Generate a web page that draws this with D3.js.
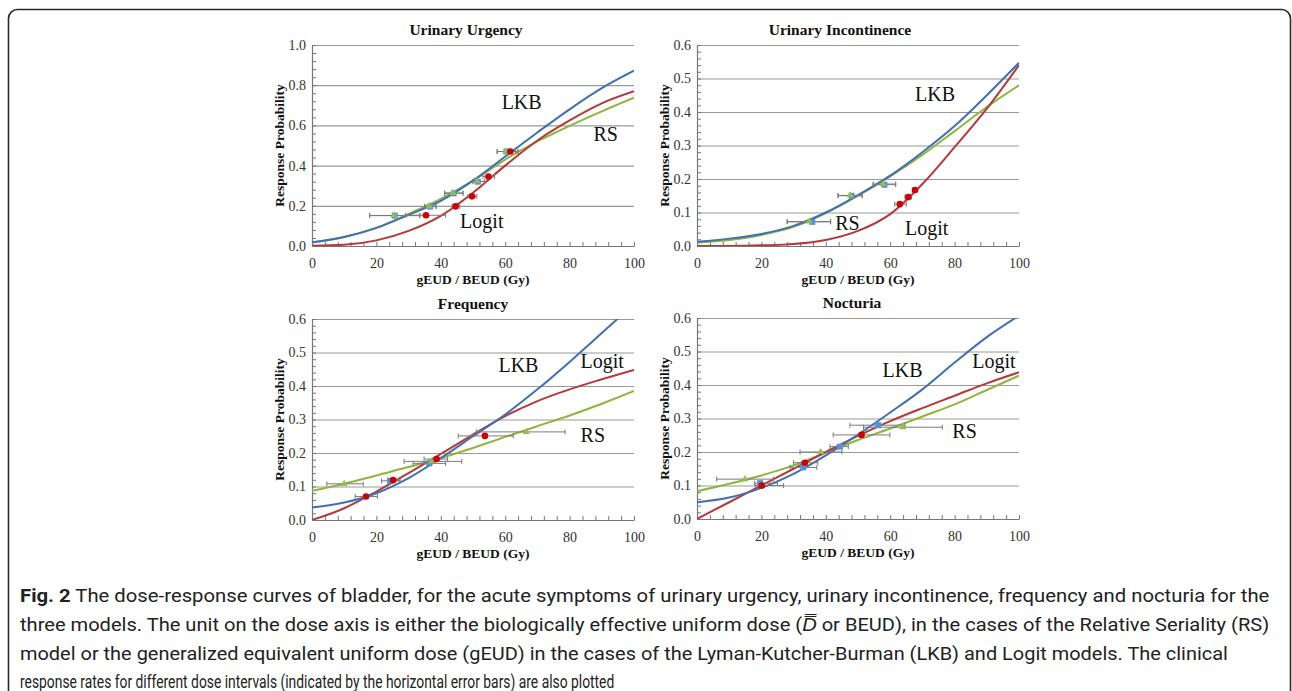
<!DOCTYPE html>
<html>
<head>
<meta charset="utf-8">
<style>
  body { margin: 0; background: #fff; }
  svg { display: block; }
  .axis text { font-family: "Liberation Serif", "Times New Roman", serif; font-size: 14px; fill: #333; }
  .axis .domain { stroke: #777; stroke-width: 1.2; }
  .axis line { stroke: #777; }
  .grid line { stroke: #999; stroke-width: 1.2; }
  .grid .domain { display: none; }
  .title { font-family: "Liberation Serif", serif; font-weight: bold; font-size: 15.5px; fill: #111; }
  .axis-title { font-family: "Liberation Serif", serif; font-weight: bold; font-size: 13.5px; fill: #111; }
  .curve-label { font-family: "Liberation Serif", serif; font-size: 20px; fill: #111; }
  .caption { font-family: "Roboto", "Open Sans", sans-serif; font-size: 18px; fill: #222; }
</style>
</head>
<body>
<svg width="1292" height="691"></svg>
<script src="https://d3js.org/d3.v7.min.js"></script>
<script>
const doses = [0, 10, 20, 30, 40, 50, 60, 70, 80, 90, 100];

// Urinary urgency
const urgencyLKB   = [0.018, 0.045, 0.09, 0.155, 0.225, 0.325, 0.445, 0.565, 0.68, 0.785, 0.872];
const urgencyLogit = [0.001, 0.006, 0.028, 0.075, 0.15, 0.265, 0.40, 0.525, 0.625, 0.71, 0.77];
const urgencyRS    = [0.017, 0.045, 0.09, 0.16, 0.235, 0.325, 0.43, 0.52, 0.598, 0.67, 0.738];
// [dose, rate, dose low, dose high]
const urgencyLKBPts   = [[25.7, 0.151, 17.9, 33.5], [36.7, 0.196, 35.0, 38.5], [44.0, 0.262, 41.2, 46.9], [51.5, 0.32, 50.0, 53.6], [60.4, 0.47, 57.5, 64.0]];
const urgencyRSPts    = [[25.5, 0.152, 17.9, 33.5], [36.4, 0.198, 35.0, 38.5], [43.8, 0.264, 41.2, 46.9], [51.3, 0.322, 50.0, 53.6], [60.2, 0.47, 57.5, 64.0]];
const urgencyLogitPts = [[35.4, 0.153, 29.0, 41.5], [44.6, 0.197, 43.5, 45.9], [49.7, 0.247, 48.4, 51.2], [54.8, 0.346, 53.1, 56.7], [61.6, 0.47, 60.0, 63.2]];

// Urinary incontinence
const incontLKB   = [0.013, 0.022, 0.036, 0.06, 0.10, 0.152, 0.21, 0.28, 0.358, 0.45, 0.547];
const incontLogit = [0.0, 0.0003, 0.002, 0.006, 0.018, 0.045, 0.095, 0.185, 0.295, 0.41, 0.54];
const incontRS    = [0.01, 0.018, 0.033, 0.057, 0.098, 0.15, 0.208, 0.272, 0.343, 0.415, 0.48];
const incontLKBPts   = [[35.8, 0.072, 28.0, 41.5], [48.0, 0.15, 43.8, 51.3], [58.2, 0.183, 54.7, 61.7]];
const incontRSPts    = [[34.8, 0.073, 28.0, 41.5], [47.6, 0.151, 43.8, 51.3], [57.8, 0.185, 54.7, 61.7]];
const incontLogitPts = [[63.0, 0.125, 61.4, 65.0], [65.6, 0.146, 64.6, 66.6], [67.7, 0.167, 67.0, 68.4]];

// Frequency
const freqLKB   = [0.037, 0.052, 0.08, 0.125, 0.185, 0.25, 0.315, 0.39, 0.472, 0.558, 0.645];
const freqLogit = [0.0, 0.035, 0.085, 0.14, 0.197, 0.255, 0.31, 0.355, 0.39, 0.42, 0.448];
const freqRS    = [0.087, 0.108, 0.133, 0.158, 0.185, 0.215, 0.248, 0.28, 0.312, 0.347, 0.385];
const freqLKBPts   = [[24.2, 0.117, 21.6, 27.4], [36.4, 0.169, 31.4, 41.5]];
const freqRSPts    = [[10.0, 0.108, 4.6, 15.9], [37.1, 0.175, 28.6, 46.5], [66.5, 0.263, 51.0, 78.6]];
const freqLogitPts = [[16.8, 0.07, 13.4, 20.3], [25.2, 0.119, 23.5, 27.0], [38.7, 0.182, 34.8, 42.1], [53.7, 0.251, 45.4, 62.5]];

// Nocturia
const noctLKB   = [0.05, 0.064, 0.093, 0.135, 0.19, 0.252, 0.318, 0.387, 0.467, 0.543, 0.607];
const noctLogit = [0.0, 0.05, 0.10, 0.15, 0.20, 0.248, 0.292, 0.331, 0.368, 0.405, 0.438];
const noctRS    = [0.083, 0.105, 0.13, 0.16, 0.198, 0.236, 0.27, 0.306, 0.342, 0.385, 0.428];
const noctLKBPts   = [[19.6, 0.107, 17.9, 25.0], [33.0, 0.154, 28.9, 37.2], [44.4, 0.216, 41.3, 47.0], [56.3, 0.28, 47.5, 64.6]];
const noctRSPts    = [[14.9, 0.119, 6.1, 23.7], [38.4, 0.20, 32.0, 45.0], [63.9, 0.274, 51.7, 76.2]];
const noctLogitPts = [[20.1, 0.10, 18.1, 26.9], [33.5, 0.168, 30.0, 37.5], [51.1, 0.251, 42.3, 59.9]];

const xTicks = [0, 20, 40, 60, 80, 100];

const captionLines = [
    "The dose-response curves of bladder, for the acute symptoms of urinary urgency, urinary incontinence, frequency and nocturia for the",
    "three models. The unit on the dose axis is either the biologically effective uniform dose (",
    "model or the generalized equivalent uniform dose (gEUD) in the cases of the Lyman-Kutcher-Burman (LKB) and Logit models. The clinical",
    "response rates for different dose intervals (indicated by the horizontal error bars) are also plotted"
]

const colors = { lkb: "#3f6fb6", logit: "#b8383a", rs: "#8db63c" }
const markerColors = { lkb: "#5591d6", logit: "#d00000", rs: "#93c04c" }

const panels = [
    { title: "Urinary Urgency", x0: 312, x1: 634, y0: 246, y1: 45, ymax: 1.0, step: 0.2, titleX: 466,
      lkb: urgencyLKB, logit: urgencyLogit, rs: urgencyRS,
      lkbPts: urgencyLKBPts, logitPts: urgencyLogitPts, rsPts: urgencyRSPts,
      labels: [["LKB", 58.9, 0.68], ["RS", 87.4, 0.52], ["Logit", 46, 0.088]] },
    { title: "Urinary Incontinence", x0: 697, x1: 1019, y0: 246, y1: 45, ymax: 0.6, step: 0.1, titleX: 840,
      lkb: incontLKB, logit: incontLogit, rs: incontRS,
      lkbPts: incontLKBPts, logitPts: incontLogitPts, rsPts: incontRSPts,
      labels: [["LKB", 67.7, 0.433], ["RS", 42.9, 0.048], ["Logit", 64.6, 0.033]] },
    { title: "Frequency", x0: 312, x1: 634, y0: 520, y1: 319, ymax: 0.6, step: 0.1, titleX: 473,
      lkb: freqLKB, logit: freqLogit, rs: freqRS,
      lkbPts: freqLKBPts, logitPts: freqLogitPts, rsPts: freqRSPts,
      labels: [["LKB", 57.9, 0.443], ["Logit", 83.4, 0.453], ["RS", 83.4, 0.234]] },
    { title: "Nocturia", x0: 697, x1: 1019, y0: 519, y1: 318, ymax: 0.6, step: 0.1, titleX: 852,
      lkb: noctLKB, logit: noctLogit, rs: noctRS,
      lkbPts: noctLKBPts, logitPts: noctLogitPts, rsPts: noctRSPts,
      labels: [["LKB", 57.6, 0.423], ["Logit", 85.5, 0.452], ["RS", 79.3, 0.243]] }
]

let svg = d3.select("svg")

// frame around the figure
svg.append("rect")
    .attr("x", 8.5).attr("y", 9.5)
    .attr("width", 1282).attr("height", 720)
    .attr("rx", 9)
    .attr("fill", "none")
    .attr("stroke", "#2a2a2a")
    .attr("stroke-width", 1.6)

panels.forEach(function (p, i) {
    let x = d3.scaleLinear().domain([0, 100]).range([p.x0, p.x1])
    let y = d3.scaleLinear().domain([0, p.ymax]).range([p.y0, p.y1])
    let g = svg.append("g")
    let majors = d3.range(0, p.ymax + 1e-9, p.step)
    let minors = d3.range(0, p.ymax + 1e-9, p.step / 5)

    // gridlines
    g.append("g")
        .attr("class", "grid")
        .attr("transform", `translate(${p.x0},0)`)
        .call(d3.axisLeft(y).tickValues(majors.slice(1)).tickSize(-(p.x1 - p.x0)).tickFormat(""))

    // y axis: minor ticks inside + labels
    g.append("g")
        .attr("class", "axis")
        .attr("transform", `translate(${p.x0},0)`)
        .call(d3.axisLeft(y).tickValues(minors).tickSize(-4).tickSizeOuter(0).tickFormat(""))
    g.append("g")
        .attr("class", "axis")
        .attr("transform", `translate(${p.x0},0)`)
        .call(d3.axisLeft(y).tickValues(majors).tickSize(0).tickPadding(6).tickFormat(d3.format(".1f")))
        .call(a => a.select(".domain").remove())

    // x axis
    g.append("g")
        .attr("class", "axis")
        .attr("transform", `translate(0,${p.y0})`)
        .call(d3.axisBottom(x).tickValues(d3.range(0, 101, 4)).tickSize(-4).tickSizeOuter(0).tickFormat(""))
    g.append("g")
        .attr("class", "axis")
        .attr("transform", `translate(0,${p.y0})`)
        .call(d3.axisBottom(x).tickValues(xTicks).tickSize(0).tickPadding(12).tickFormat(d3.format("d")))
        .call(a => a.select(".domain").remove())

    // titles
    g.append("text").attr("class", "title")
        .attr("x", p.titleX).attr("y", p.y1 - 10)
        .attr("text-anchor", "middle").text(p.title)
    g.append("text").attr("class", "axis-title")
        .attr("x", (p.x0 + p.x1) / 2).attr("y", p.y0 + 38)
        .attr("text-anchor", "middle").text("gEUD / BEUD (Gy)")
    g.append("text").attr("class", "axis-title")
        .attr("transform", `translate(${p.x0 - 28},${(p.y0 + p.y1) / 2}) rotate(-90)`)
        .attr("text-anchor", "middle").text("Response Probability")

    // curves
    let clipId = "clip" + i
    svg.append("clipPath").attr("id", clipId)
        .append("rect")
        .attr("x", p.x0).attr("y", p.y1)
        .attr("width", p.x1 - p.x0).attr("height", p.y0 - p.y1)

    let line = d3.line()
        .x((d, j) => x(doses[j]))
        .y(d => y(d))
        .curve(d3.curveMonotoneX)

    let curves = g.append("g").attr("clip-path", `url(#${clipId})`)
    curves.selectAll("path")
        .data([["rs", p.rs], ["logit", p.logit], ["lkb", p.lkb]])
        .join("path")
        .attr("d", d => line(d[1]))
        .attr("fill", "none")
        .attr("stroke", d => colors[d[0]])
        .attr("stroke-width", 2)

    // error bars
    let allPts = p.lkbPts.concat(p.rsPts, p.logitPts)
    let bars = g.append("g").attr("stroke", "#7a7a7a").attr("stroke-width", 1)
    allPts.forEach(function (d) {
        bars.append("line")
            .attr("x1", x(d[2])).attr("x2", x(d[3]))
            .attr("y1", y(d[1])).attr("y2", y(d[1]))
        bars.append("line")
            .attr("x1", x(d[2])).attr("x2", x(d[2]))
            .attr("y1", y(d[1]) - 2.5).attr("y2", y(d[1]) + 2.5)
        bars.append("line")
            .attr("x1", x(d[3])).attr("x2", x(d[3]))
            .attr("y1", y(d[1]) - 2.5).attr("y2", y(d[1]) + 2.5)
    })

    // markers
    g.append("g").selectAll("rect")
        .data(p.lkbPts)
        .join("rect")
        .attr("x", d => x(d[0]) - 3).attr("y", d => y(d[1]) - 3)
        .attr("width", 6).attr("height", 6)
        .attr("fill", markerColors.lkb)
    g.append("g").selectAll("path")
        .data(p.rsPts)
        .join("path")
        .attr("transform", d => `translate(${x(d[0])},${y(d[1])})`)
        .attr("d", d3.symbol(d3.symbolTriangle, 22))
        .attr("fill", markerColors.rs)
    g.append("g").selectAll("circle")
        .data(p.logitPts)
        .join("circle")
        .attr("cx", d => x(d[0])).attr("cy", d => y(d[1]))
        .attr("r", 3.3)
        .attr("fill", markerColors.logit)

    // curve labels
    g.selectAll(".curve-label")
        .data(p.labels)
        .join("text")
        .attr("class", "curve-label")
        .attr("x", d => x(d[1]))
        .attr("y", d => y(d[2]))
        .text(d => d[0])
})

// caption: each line squeezed horizontally to the width it has in the figure
let capX = 20
let capY = [602, 631, 660, 688]
let capWidths = [1250, 1250, 1208, 595]

captionLines.forEach(function (txt, i) {
    let g = svg.append("g")
    let t = g.append("text").attr("class", "caption")
    if (i == 0) {
        t.append("tspan").attr("font-weight", "bold").text("Fig. 2")
        t.append("tspan").text(" " + txt)
    } else if (i == 1) {
        t.append("tspan").text(txt)
        t.append("tspan").attr("font-style", "italic").text("D\u033F")
        t.append("tspan").text(" or BEUD), in the cases of the Relative Seriality (RS)")
    } else {
        t.text(txt)
    }
    let k = capWidths[i] / t.node().getComputedTextLength()
    g.attr("transform", `translate(${capX},${capY[i]}) scale(${k},1)`)
})
</script>
</body>
</html>
